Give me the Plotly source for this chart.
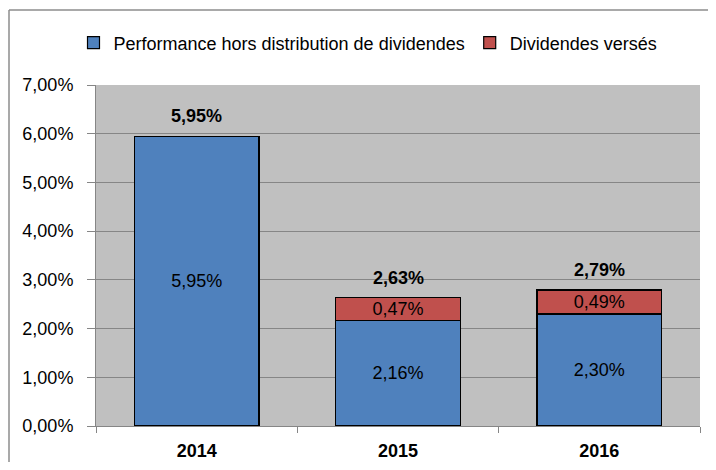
import plotly.graph_objects as go

years = ["2014", "2015", "2016"]
perf = [5.95, 2.16, 2.30]
divs = [0.0, 0.47, 0.49]
div_labels = ["", "0,47%", "0,49%"]
totals = [5.95, 2.63, 2.79]
yticks = [0, 1, 2, 3, 4, 5, 6, 7]
ytick_text = [f"{v:.2f}".replace(".", ",") + "%" for v in yticks]

FONT = "Liberation Sans, Arial"
FS = 18

W, H = 700, 454
L, T, PW, PH = 88, 77, 604, 341

fig = go.Figure()
fig.add_trace(go.Bar(
    x=years, y=perf, name="Performance hors distribution de dividendes",
    marker=dict(color="#4f81bd", line=dict(color="black", width=1.2)),
    texttemplate="%{y:.2f}%", textposition="inside", insidetextanchor="middle",
    constraintext="none",
    textfont=dict(color="black", size=FS, family=FONT),
))
fig.add_trace(go.Bar(
    x=years, y=divs, name="Dividendes versés",
    marker=dict(color="#c0504d", line=dict(color="black", width=1.2)),
    text=div_labels, texttemplate="%{text}", textposition="inside", insidetextanchor="middle",
    constraintext="none",
    textfont=dict(color="black", size=FS, family=FONT),
))

for i, t in enumerate(totals):
    fig.add_annotation(x=i, y=t, text="<b>" + f"{t:.2f}".replace(".", ",") + "%</b>",
                       showarrow=False, yanchor="bottom", yshift=8,
                       font=dict(size=FS, color="black", family=FONT))

# outer chart border (left and top edges visible)
bx = (1 - L) / PW
by = 1 + (T - 2) / PH
fig.add_shape(type="line", xref="paper", yref="paper", x0=bx, x1=bx, y0=-(H - T - PH) / PH - 0.1, y1=by,
              line=dict(color="#8c8c8c", width=1.5))
fig.add_shape(type="line", xref="paper", yref="paper", x0=bx, x1=1.2, y0=by, y1=by,
              line=dict(color="#8c8c8c", width=1.5))

fig.update_layout(
    width=W, height=H,
    barmode="stack", bargap=0.38,
    separators=",.",
    paper_bgcolor="white", plot_bgcolor="#c0c0c0",
    margin=dict(l=L, r=W - L - PW, t=T, b=H - T - PH, autoexpand=False),
    font=dict(family=FONT, size=FS, color="black"),
    showlegend=True,
    legend=dict(orientation="h", x=(360 - L) / PW, xanchor="center", y=1 + (T - 35) / PH, yanchor="middle",
                font=dict(size=18, family=FONT), traceorder="normal",
                bgcolor="rgba(0,0,0,0)",
                itemwidth=30, tracegroupgap=0),
)
fig.update_yaxes(range=[0, 7], tickmode="array", tickvals=yticks, ticktext=ytick_text,
                 showgrid=True, gridcolor="#868686", gridwidth=1,
                 showline=True, linecolor="#868686", linewidth=1,
                 ticks="outside", ticklen=8, tickcolor="#868686", zeroline=False,
                 ticklabelstandoff=10, automargin=False,
                 tickfont=dict(size=FS, family=FONT))
fig.update_xaxes(type="category", range=[-0.5, 2.5], showline=True, linecolor="#868686", linewidth=1,
                 ticks="outside", tickson="boundaries", ticklen=6, tickcolor="#868686",
                 tickmode="array", tickvals=years, ticktext=["<b>" + y + "</b>" for y in years],
                 ticklabelstandoff=8, automargin=False,
                 tickfont=dict(size=FS, family=FONT))

fig.write_html("out.html")
